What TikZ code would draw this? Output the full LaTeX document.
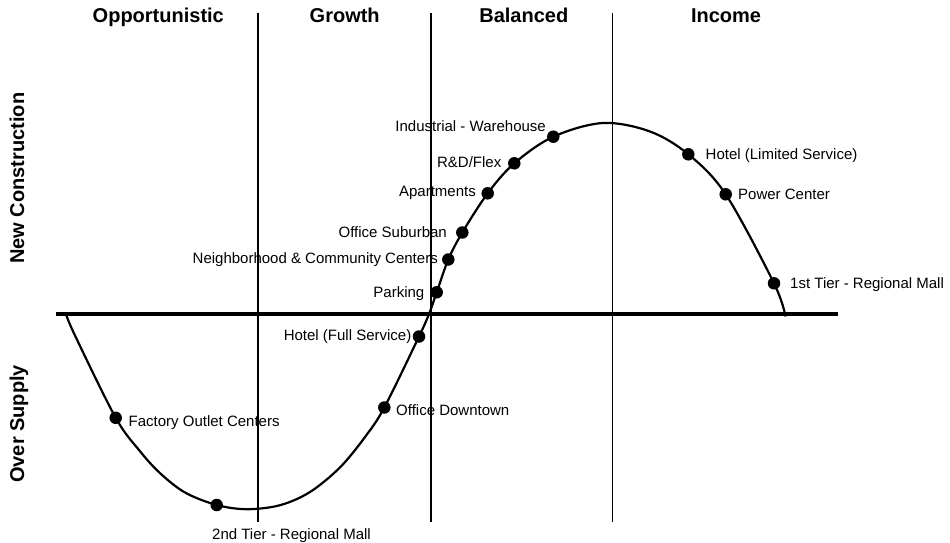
\documentclass[tikz,border=0pt]{standalone}
\usepackage{fontspec}
\setmainfont{Liberation Sans}
\tikzset{
  dot/.style={circle, fill=black, inner sep=0pt, minimum size=12.5pt},
  lbl/.style={inner sep=0pt, font=\fontsize{15}{18}\selectfont},
  hdr/.style={inner sep=0pt, font=\fontsize{20}{24}\selectfont\bfseries},
  divider/.style={line width=1.5pt},
  axisline/.style={line width=3.2pt},
  cyclecurve/.style={line width=2.2pt}
}
\begin{document}
\begin{tikzpicture}[x=1pt,y=-1pt]
\useasboundingbox (0,0) rectangle (950,543);
% column headers
\node[hdr, anchor=base] (hOpp) at (158.3,23) {Opportunistic};
\node[hdr, anchor=base] (hGro) at (344.7,23) {Growth};
\node[hdr, anchor=base] (hBal) at (523.8,23) {Balanced};
\node[hdr, anchor=base] (hInc) at (726,23) {Income};
% side labels
\node[hdr, anchor=base, rotate=90] (vNew) at (24,178.3) {New Construction};
\node[hdr, anchor=base, rotate=90] (vOver) at (24,423.8) {Over Supply};
% dividers and axis
\coordinate (v1t) at (258,13.3);   \coordinate (v1b) at (258,521.7);
\coordinate (v2t) at (431,13.3);   \coordinate (v2b) at (431,521.7);
\coordinate (v3t) at (612.5,13.3); \coordinate (v3b) at (612.5,521.7);
\coordinate (axL) at (56,314);     \coordinate (axR) at (837.5,314);
\draw[divider] (v1t) -- (v1b);
\draw[divider] (v2t) -- (v2b);
\draw[divider] (v3t) -- (v3b);
\draw[axisline] (axL) -- (axR);
% curve points
\coordinate (cStart) at (66,314);
\coordinate (c1) at (75,335.5);
\coordinate (pFactory) at (115.7,417.8);
\coordinate (c2) at (140,451.2);
\coordinate (c3) at (160,473.1);
\coordinate (c4) at (185,492.5);
\coordinate (pSecond) at (216.7,505);
\coordinate (cMin) at (247,509.2);
\coordinate (c5) at (280,505.2);
\coordinate (c6) at (310,492);
\coordinate (c7) at (340,467.4);
\coordinate (c8) at (365,437);
\coordinate (pOffDown) at (384.3,407.5);
\coordinate (pHotFull) at (419,336.5);
\coordinate (cCross) at (429,314);
\coordinate (pParking) at (436.7,292.3);
\coordinate (pNeigh) at (448.3,259.5);
\coordinate (pOffSub) at (462.3,232.5);
\coordinate (pApart) at (487.7,193.3);
\coordinate (pRD) at (514.3,163.3);
\coordinate (pInd) at (553.3,136.7);
\coordinate (cMax) at (603,123);
\coordinate (cD) at (650,131.5);
\coordinate (pHotLim) at (688.3,154.3);
\coordinate (pPower) at (725.7,194.3);
\coordinate (pFirst) at (774,283.3);
\coordinate (cEnd) at (785.5,316.5);
\draw[cyclecurve] plot[smooth, tension=0.55] coordinates {(cStart) (c1) (pFactory) (c2) (c3) (c4) (pSecond) (cMin) (c5) (c6) (c7) (c8) (pOffDown) (pHotFull) (cCross) (pParking) (pNeigh) (pOffSub) (pApart) (pRD) (pInd) (cMax) (cD) (pHotLim) (pPower) (pFirst) (cEnd)};
% labels
\node[lbl, anchor=base west] (tFactory) at (128.5,426.5) {Factory Outlet Centers};
\node[lbl, anchor=base] (tSecond) at (291.5,539) {2nd Tier - Regional Mall};
\node[lbl, anchor=base west] (tOffDown) at (396,415.5) {Office Downtown};
\node[lbl, anchor=base east] (tHotFull) at (411.5,340) {Hotel (Full Service)};
\node[lbl, anchor=base east] (tParking) at (424.5,297) {Parking};
\node[lbl, anchor=base east] (tNeigh) at (438,263.5) {Neighborhood \& Community Centers};
\node[lbl, anchor=base east] (tOffSub) at (447,237) {Office Suburban};
\node[lbl, anchor=base east] (tApart) at (476,196.5) {Apartments};
\node[lbl, anchor=base east] (tRD) at (501.5,167) {R\&D/Flex};
\node[lbl, anchor=base east] (tInd) at (546,131.5) {Industrial - Warehouse};
\node[lbl, anchor=base west] (tHotLim) at (705.5,159.3) {Hotel (Limited Service)};
\node[lbl, anchor=base west] (tPower) at (738,199.3) {Power Center};
\node[lbl, anchor=base west] (tFirst) at (790,288.3) {1st Tier - Regional Mall};
% dots
\node[dot] (dFactory) at (pFactory) {};
\node[dot] (dSecond) at (pSecond) {};
\node[dot] (dOffDown) at (pOffDown) {};
\node[dot] (dHotFull) at (pHotFull) {};
\node[dot] (dParking) at (pParking) {};
\node[dot] (dNeigh) at (pNeigh) {};
\node[dot] (dOffSub) at (pOffSub) {};
\node[dot] (dApart) at (pApart) {};
\node[dot] (dRD) at (pRD) {};
\node[dot] (dInd) at (pInd) {};
\node[dot] (dHotLim) at (pHotLim) {};
\node[dot] (dPower) at (pPower) {};
\node[dot] (dFirst) at (pFirst) {};
\end{tikzpicture}
\end{document}
